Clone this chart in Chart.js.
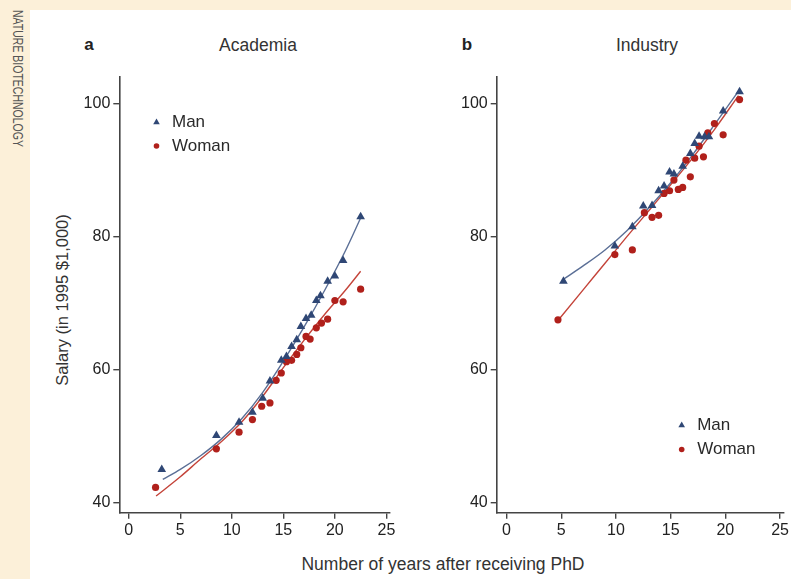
<!DOCTYPE html>
<html>
<head>
<meta charset="utf-8">
<script src="https://cdn.jsdelivr.net/npm/chart.js@4.4.1/dist/chart.umd.min.js"></script>
<style>
  html, body { margin: 0; padding: 0; }
  body { width: 791px; height: 579px; background: #fcf0d9; position: relative; overflow: hidden;
         font-family: "Liberation Sans", Arial, sans-serif; color: #333; }
  #panel { position: absolute; left: 30px; top: 10px; width: 761px; height: 569px; background: #fff; }
  .txt { position: absolute; white-space: nowrap; transform: translate(-50%, -50%); }
  #journal { position: absolute; left: 26px; top: 10px; transform-origin: 0 0;
             transform: rotate(90deg) scaleX(0.75); line-height: 16px;
             font-family: "Liberation Sans", Arial, sans-serif; font-size: 14px;
             color: #555; white-space: nowrap; }
  canvas { position: absolute; }
</style>
</head>
<body>
<div id="panel"></div>
<div id="journal">NATURE BIOTECHNOLOGY</div>
<div class="txt" style="left:89px;top:45px;font-weight:bold;font-size:17px;color:#222">a</div>
<div class="txt" style="left:258px;top:45px;font-size:17.5px">Academia</div>
<div class="txt" style="left:467px;top:45px;font-weight:bold;font-size:17px;color:#222">b</div>
<div class="txt" style="left:647px;top:45px;font-size:17.5px">Industry</div>
<div class="txt" style="left:62px;top:300px;font-size:16.5px;transform:translate(-50%,-50%) rotate(-90deg)">Salary (in 1995 $1,000)</div>
<div class="txt" style="left:443px;top:564px;font-size:17.5px">Number of years after receiving PhD</div>

<canvas id="chartA" width="340" height="490" style="left:60px;top:60px"></canvas>
<canvas id="chartB" width="351" height="490" style="left:440px;top:60px"></canvas>

<script>
// ---- data ----
const xTicks = [0, 5, 10, 15, 20, 25];
const yTicks = [40, 60, 80, 100];

// a: Academia
const acadManYears = [3.2, 8.5, 10.7, 12.0, 13.0, 13.7, 14.8, 15.3, 15.8, 16.3, 16.7, 17.2, 17.7, 18.2, 18.6, 19.3, 20.0, 20.8, 22.5];
const acadManSalary = [45.0, 50.1, 52.1, 53.6, 55.7, 58.3, 61.4, 62.0, 63.5, 64.5, 66.5, 67.7, 68.2, 70.4, 71.1, 73.3, 74.1, 76.4, 83.0];
const acadWomanYears = [2.6, 8.5, 10.7, 12.0, 12.9, 13.7, 14.3, 14.8, 15.3, 15.8, 16.3, 16.7, 17.2, 17.6, 18.2, 18.7, 19.3, 20.0, 20.8, 22.5];
const acadWomanSalary = [42.3, 48.1, 50.6, 52.5, 54.5, 55.0, 58.4, 59.5, 61.2, 61.4, 62.3, 63.3, 65.0, 64.6, 66.3, 67.0, 67.6, 70.4, 70.2, 72.1];
const acadManFitYears = [3.3, 5, 7, 9, 11, 13, 15, 17, 19, 21, 22.5];
const acadManFit = [43.5, 45.0, 47.1, 49.6, 52.7, 56.6, 61.3, 66.4, 71.9, 77.8, 82.8];
const acadWomanFitYears = [2.65, 5, 7, 9, 11, 13, 15, 17, 19, 21, 22.5];
const acadWomanFit = [41.0, 43.9, 46.6, 49.2, 52.2, 56.0, 60.3, 64.4, 68.3, 71.9, 74.8];

// b: Industry
const indManYears = [5.2, 9.9, 11.5, 12.5, 13.3, 13.9, 14.4, 14.9, 15.3, 16.1, 16.8, 17.2, 17.6, 18.1, 18.5, 19.8, 21.3];
const indManSalary = [73.3, 78.6, 81.5, 84.6, 84.7, 86.9, 87.6, 89.7, 89.4, 90.6, 92.5, 94.0, 95.1, 95.0, 95.0, 98.9, 101.8];
const indWomanYears = [4.7, 9.9, 11.5, 12.6, 13.3, 13.9, 14.4, 14.9, 15.3, 15.7, 16.1, 16.4, 16.8, 17.2, 17.6, 18.0, 18.4, 19.0, 19.8, 21.3];
const indWomanSalary = [67.5, 77.3, 78.0, 83.6, 82.9, 83.2, 86.5, 86.9, 88.5, 87.1, 87.4, 91.5, 89.0, 91.8, 93.6, 92.0, 95.6, 97.0, 95.3, 100.6];
const indManFitYears = [5.2, 7, 9, 11, 13, 15, 17, 19, 21.3];
const indManFit = [73.6, 75.6, 78.0, 80.9, 84.3, 88.1, 92.3, 96.8, 102.1];
const indWomanFitYears = [4.7, 7, 9, 11, 13, 15, 17, 19, 21.2];
const indWomanFit = [67.4, 72.0, 76.0, 80.0, 83.9, 87.8, 91.8, 96.1, 101.2];

// ---- styles ----
const manColor = '#2f4775';
const womanColor = '#b0201b';
const manLine = '#5b6f96';
const womanLine = '#c4443a';
const axisColor = '#444';
const tickFont = { family: '"Liberation Sans", Arial, sans-serif', size: 16 };

const pts = (xs, ys) => xs.map((x, i) => ({ x: x, y: ys[i] }));

// legend drawn inside the plot area
const innerLegend = {
  id: 'innerLegend',
  afterDraw(chart, args, opts) {
    const ctx = chart.ctx;
    ctx.save();
    ctx.font = '17px "Liberation Sans", Arial, sans-serif';
    ctx.textBaseline = 'middle';
    chart.data.datasets.filter(d => !d.showLine).forEach((ds, i) => {
      const x = opts.x, y = opts.y + i * opts.gap;
      ctx.fillStyle = ds.backgroundColor;
      ctx.beginPath();
      if (ds.pointStyle === 'triangle') {
        ctx.moveTo(x, y - 3.6);
        ctx.lineTo(x + 3.3, y + 2.2);
        ctx.lineTo(x - 3.3, y + 2.2);
        ctx.closePath();
      } else {
        ctx.arc(x, y, 2.8, 0, Math.PI * 2);
      }
      ctx.fill();
      ctx.fillStyle = '#2a2a2a';
      ctx.fillText(ds.label, x + 15.5, y);
    });
    ctx.restore();
  }
};

function makeChart(id, d, xr, yWidth, padRight, legendPos) {
  return new Chart(document.getElementById(id), {
    type: 'scatter',
    data: {
      datasets: [
        { label: 'Man', data: pts(d[0], d[1]), pointStyle: 'triangle', pointRadius: 5,
          backgroundColor: manColor, borderColor: manColor, borderWidth: 0, showLine: false },
        { label: 'Woman', data: pts(d[2], d[3]), pointStyle: 'circle', pointRadius: 3.6,
          backgroundColor: womanColor, borderColor: womanColor, borderWidth: 0, showLine: false },
        { label: 'Man fit', data: pts(d[4], d[5]), showLine: true, pointRadius: 0,
          borderColor: manLine, borderWidth: 1.4, cubicInterpolationMode: 'monotone' },
        { label: 'Woman fit', data: pts(d[6], d[7]), showLine: true, pointRadius: 0,
          borderColor: womanLine, borderWidth: 1.4, cubicInterpolationMode: 'monotone' }
      ]
    },
    options: {
      responsive: false,
      animation: false,
      devicePixelRatio: 1,
      layout: { padding: { top: 17, right: padRight, bottom: 0, left: 0 } },
      plugins: {
        legend: { display: false },
        tooltip: { enabled: false },
        innerLegend: legendPos
      },
      scales: {
        x: {
          type: 'linear', min: xr[0], max: xr[1],
          afterBuildTicks: s => { s.ticks = xTicks.map(v => ({ value: v })); },
          afterFit: s => { s.height = 37.3; },
          ticks: { font: tickFont, color: '#222', padding: 2 },
          grid: { drawOnChartArea: false, tickLength: 6, color: axisColor, lineWidth: 1.4 },
          border: { display: true, color: axisColor, width: 1.6 }
        },
        y: {
          type: 'linear', min: 38.5, max: 104,
          afterBuildTicks: s => { s.ticks = yTicks.map(v => ({ value: v })); },
          afterFit: s => { s.width = yWidth; },
          ticks: { font: tickFont, color: '#222', padding: 3 },
          grid: { drawOnChartArea: false, tickLength: 6, color: axisColor, lineWidth: 1.4 },
          border: { display: true, color: axisColor, width: 1.6 }
        }
      }
    },
    plugins: [innerLegend]
  });
}

makeChart('chartA',
  [acadManYears, acadManSalary, acadWomanYears, acadWomanSalary,
   acadManFitYears, acadManFit, acadWomanFitYears, acadWomanFit],
  [-0.92, 25.35], 59.3, 10, { x: 96.5, y: 62, gap: 24 });

makeChart('chartB',
  [indManYears, indManSalary, indWomanYears, indWomanSalary,
   indManFitYears, indManFit, indWomanFitYears, indWomanFit],
  [-0.9, 25.3], 56.7, 5, { x: 241.7, y: 365, gap: 24.5 });
</script>
</body>
</html>
